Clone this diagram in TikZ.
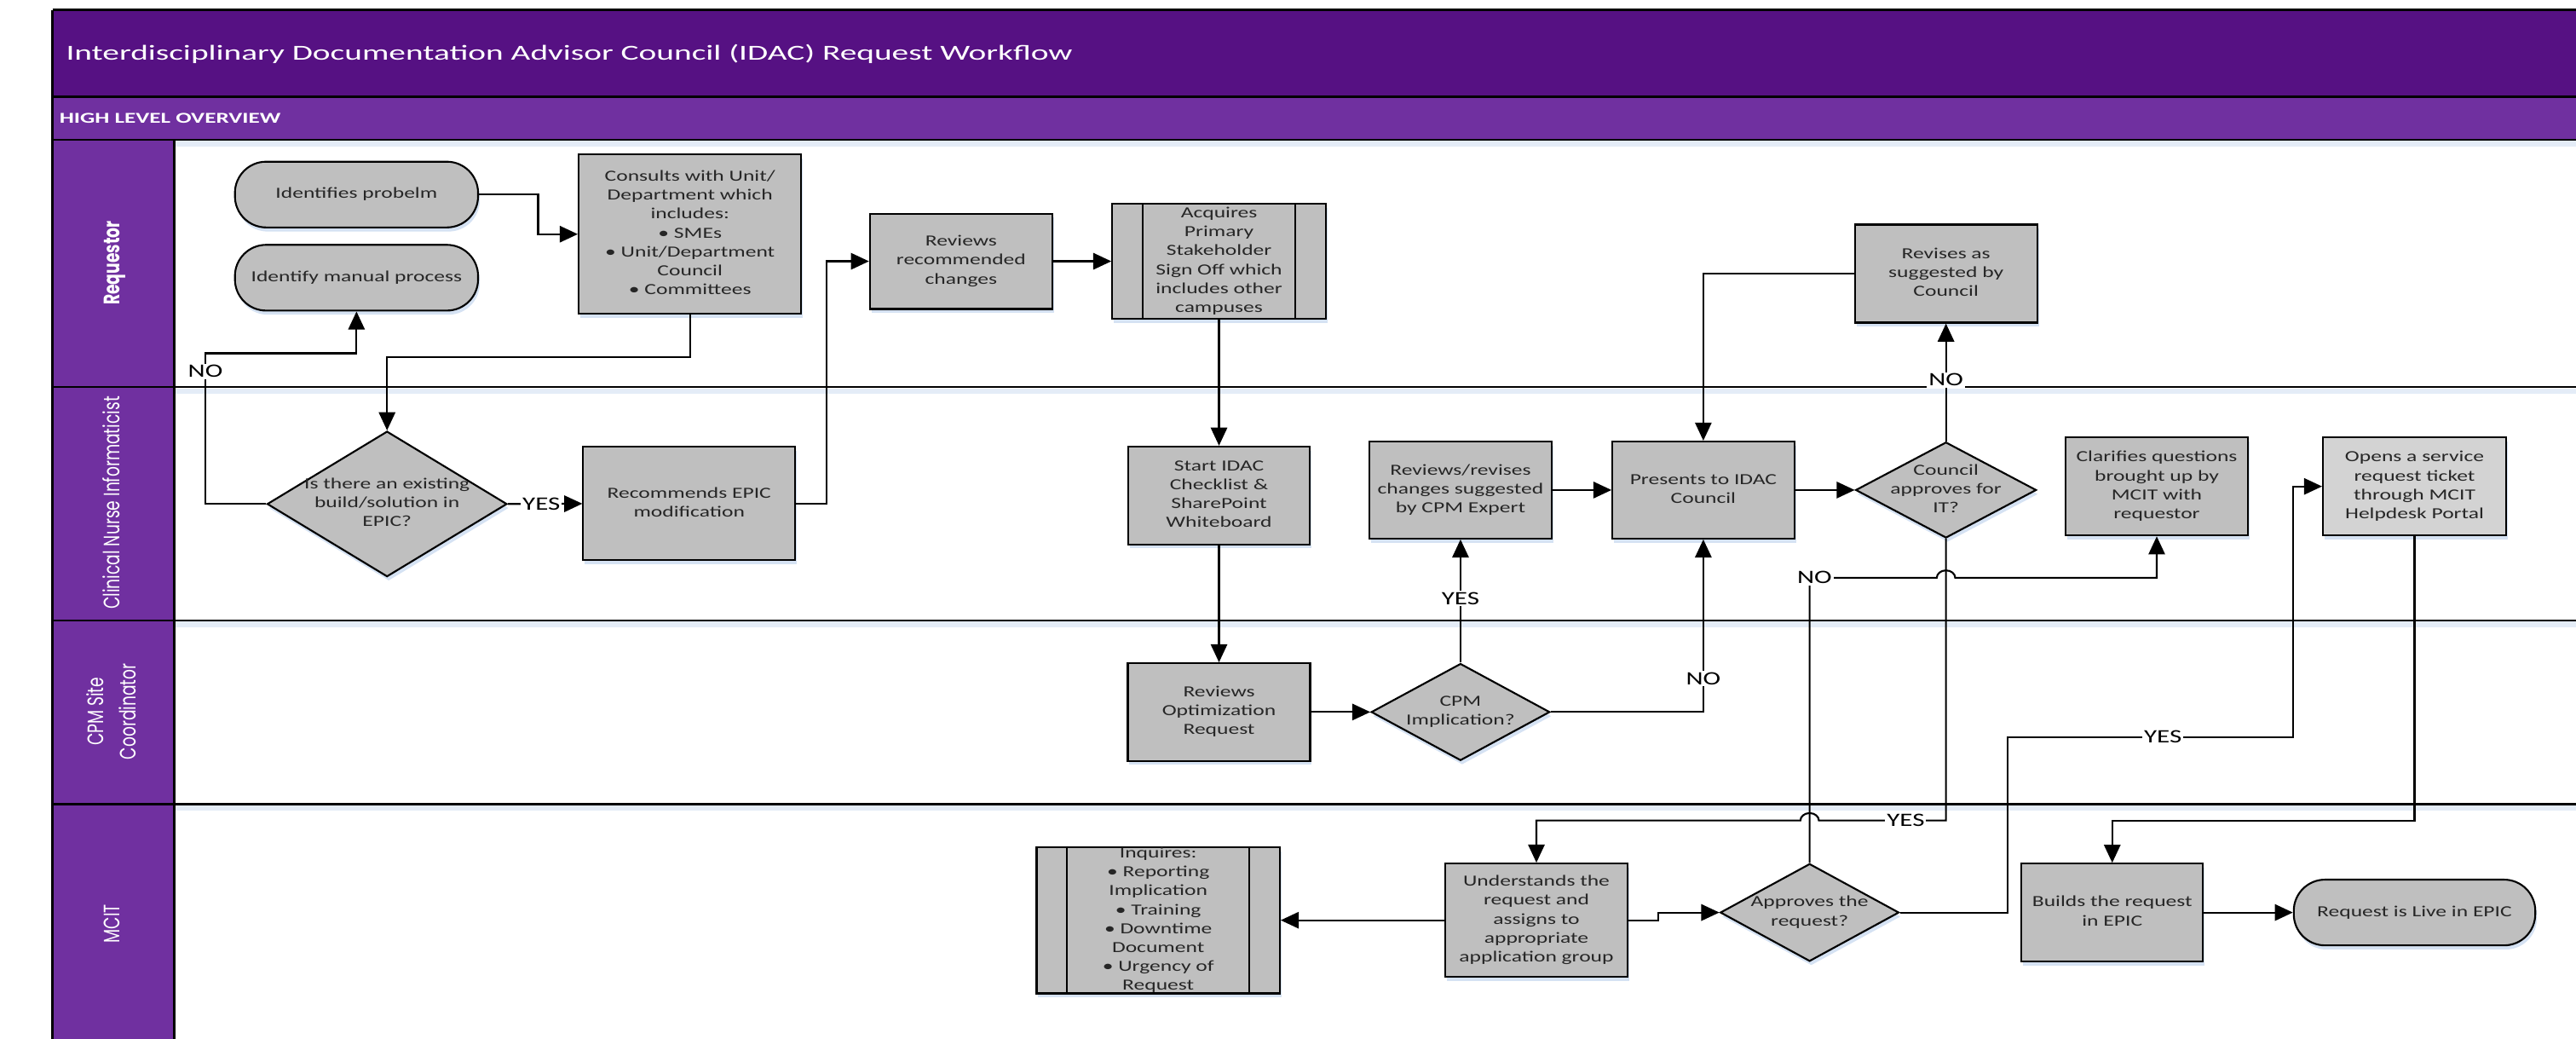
\documentclass[tikz,border=0pt]{standalone}
\usepackage{fontspec}
\setmainfont{Carlito}
\newfontfamily\lanefont{Poppins}
\usepackage{graphicx}
\usetikzlibrary{shapes.geometric,arrows.meta,shadows,calc}
\definecolor{titlepurple}{RGB}{86,17,131}
\definecolor{lanepurple}{RGB}{112,48,160}
\definecolor{boxgray}{RGB}{191,191,191}
\definecolor{lightbox}{RGB}{211,211,211}
\definecolor{txtgray}{RGB}{38,38,38}
\definecolor{shadowblue}{RGB}{196,214,238}
\newcommand{\bx}[1]{\scalebox{1.41}[1]{\begin{tabular}{@{}c@{}}#1\end{tabular}}}
\newcommand{\lb}[1]{\scalebox{1.4}[1]{#1}}
\newcommand{\lanetext}[1]{\scalebox{1}[1.4]{\begin{tabular}{@{}c@{}}#1\end{tabular}}}
\begin{document}
\begin{tikzpicture}[x=1pt,y=-1pt,
  shad/.style={drop shadow={shadow xshift=1pt,shadow yshift=-2.5pt,fill=shadowblue,opacity=0.7}},
  proc/.style={rectangle,draw=black,line width=1.1pt,fill=boxgray,inner sep=0pt,shad,
    font=\fontsize{9.4}{11.5}\selectfont,text=txtgray},
  term/.style={proc,rounded corners=19pt},
  decide/.style={diamond,draw=black,line width=1.1pt,fill=boxgray,inner sep=0pt,shad},
  txt/.style={inner sep=0pt,font=\fontsize{9.4}{11.5}\selectfont,text=txtgray},
  conn/.style={draw=black,line width=1.1pt,-{Triangle[length=11pt,width=10pt]}},
  lbl/.style={fill=white,inner sep=1pt,font=\fontsize{11.5}{12}\selectfont,text=black},
  lane/.style={draw=black,line width=1.3pt},
  lanelbl/.style={rotate=90,text=white,inner sep=0pt,font=\lanefont\fontsize{9.7}{14}\selectfont},
]
\fill[white] (0,0) rectangle (1568,632);
\useasboundingbox (0,0) rectangle (1568,632);
% bands
\fill[titlepurple] (32,6) rectangle (1580,59);
\fill[lanepurple] (32,59) rectangle (1580,85);
\fill[lanepurple] (32,85) rectangle (106,640);
% faint shadows under lines
\foreach \yy in {85,235.5,377.5,489.5}{
  \fill[shadowblue,opacity=0.45] (106,\yy+0.8) rectangle (1580,\yy+4);
}
\draw[lane] (32,6) -- (1580,6);
\draw[lane] (32,59) -- (1580,59);
\draw[lane] (32,85) -- (1580,85);
\draw[lane] (32,235.5) -- (1580,235.5);
\draw[lane] (32,377.5) -- (1580,377.5);
\draw[lane] (32,489.5) -- (1580,489.5);
\draw[lane] (32,6) -- (32,640);
\draw[lane] (106,85) -- (106,640);

% titles
\node[anchor=west,text=white,inner sep=0pt,font=\fontsize{13}{15}\selectfont] (title) at (40,33)
  {\scalebox{1.57}[1]{Interdisciplinary Documentation Advisor Council (IDAC) Request Workflow}};
\node[anchor=west,text=white,inner sep=0pt,font=\bfseries\fontsize{9.2}{11}\selectfont] (subtitle) at (36,72)
  {\scalebox{1.53}[1]{HIGH LEVEL OVERVIEW}};
\node[lanelbl] (lane1) at (69,160) {\lanetext{\bfseries Requestor}};
\node[lanelbl] (lane2) at (69,306) {\lanetext{Clinical Nurse Informaticist}};
\node[lanelbl] (lane3) at (69,433) {\lanetext{CPM Site\\Coordinator}};
\node[lanelbl] (lane4) at (69,562) {\lanetext{MCIT}};

% nodes
\node[term,minimum width=148pt,minimum height=40pt] (ident) at (217,118.4) {\bx{Identifies probelm}};
\node[term,minimum width=148pt,minimum height=40pt] (manual) at (217,169) {\bx{Identify manual process}};
\node[proc,minimum width=135.5pt,minimum height=97pt] (consult) at (420,142.5)
  {\bx{Consults with Unit/\\Department which\\includes:\\• SMEs\\• Unit/Department\\Council\\• Committees}};
\node[decide,minimum width=146pt,minimum height=88.5pt] (exist) at (235.6,306.7) {};
\node[txt] (exist-t) at (exist) {\bx{Is there an existing\\build/solution in\\EPIC?}};
\node[proc,minimum width=129pt,minimum height=69pt] (recommend) at (419.5,306.5) {\bx{Recommends EPIC\\modification}};
\node[proc,minimum width=111pt,minimum height=58pt] (reviews) at (585,159) {\bx{Reviews\\recommended\\changes}};
\node[proc,minimum width=130pt,minimum height=70pt] (acquire) at (742,159)
  {\bx{Acquires\\Primary\\Stakeholder\\Sign Off which\\includes other\\campuses}};
\draw[line width=1.1pt] ([xshift=19pt]acquire.north west) -- ([xshift=19pt]acquire.south west);
\draw[line width=1.1pt] ([xshift=-19pt]acquire.north east) -- ([xshift=-19pt]acquire.south east);
\node[proc,minimum width=110.5pt,minimum height=59.5pt] (start) at (742,301.5) {\bx{Start IDAC\\Checklist \&\\SharePoint\\Whiteboard}};
\node[proc,minimum width=111pt,minimum height=59pt] (revise) at (889,298.2) {\bx{Reviews/revises\\changes suggested\\by CPM Expert}};
\node[proc,minimum width=110.7pt,minimum height=59pt] (present) at (1036.8,298.2) {\bx{Presents to IDAC\\Council}};
\node[decide,minimum width=110pt,minimum height=58.3pt] (council) at (1184.5,298.2) {};
\node[txt] (council-t) at (council) {\bx{Council\\approves for\\IT?}};
\node[proc,minimum width=111pt,minimum height=59.7pt] (revcouncil) at (1184.5,166.5) {\bx{Revises as\\suggested by\\Council}};
\node[proc,minimum width=111pt,minimum height=59.7pt] (clarify) at (1312.8,296) {\bx{Clarifies questions\\brought up by\\MCIT with\\requestor}};
\node[proc,fill=lightbox,minimum width=111.5pt,minimum height=59.7pt] (ticket) at (1469.7,296) {\bx{Opens a service\\request ticket\\through MCIT\\Helpdesk Portal}};
\node[proc,minimum width=111pt,minimum height=59.4pt] (optim) at (742,433.3) {\bx{Reviews\\Optimization\\Request}};
\node[decide,minimum width=108.7pt,minimum height=59pt] (cpm) at (889,433.3) {};
\node[txt] (cpm-t) at (cpm) {\bx{CPM\\Implication?}};
\node[proc,minimum width=148pt,minimum height=89pt] (inquire) at (705,560) {};
\draw[line width=1.1pt] ([xshift=19pt]inquire.north west) -- ([xshift=19pt]inquire.south west);
\draw[line width=1.1pt] ([xshift=-19pt]inquire.north east) -- ([xshift=-19pt]inquire.south east);
\node[txt] (inquire-t) at (inquire) {\bx{Inquires:\\• Reporting\\Implication\\• Training\\• Downtime\\Document\\• Urgency of\\Request}};
\node[proc,minimum width=111pt,minimum height=69pt] (understand) at (935.2,560) {\bx{Understands the\\request and\\assigns to\\appropriate\\application group}};
\node[decide,minimum width=108.8pt,minimum height=59.4pt] (approve) at (1101.5,555.3) {};
\node[txt] (approve-t) at (approve) {\bx{Approves the\\request?}};
\node[proc,minimum width=110.5pt,minimum height=59.4pt] (build) at (1285.7,555.3) {\bx{Builds the request\\in EPIC}};
\node[term,minimum width=147pt,minimum height=40pt] (live) at (1469.7,555.3) {\bx{Request is Live in EPIC}};

\coordinate (yA) at (0,499.3);
\coordinate (yN) at (0,351.6);

% connectors
\draw[conn] (ident.east) -- ++(36,0) |- (consult.west);
\draw[conn] (exist.west) -| (125,215) -| (manual.south);
\node[lbl] (no1) at (125,226) {\lb{NO}};
\draw[conn] (consult.south) -- ++(0,26) -| (exist.north);
\draw[conn] (exist.east) -- (recommend.west) node[lbl,pos=0.45] (yes1) {\lb{YES}};
\draw[conn] (recommend.east) -- ++(18.5,0) |- (reviews.west);
\draw[conn] (reviews.east) -- (acquire.west);
\draw[conn] (acquire.south) -- (start.north);
\draw[conn] (start.south) -- (optim.north);
\draw[conn] (optim.east) -- (cpm.west);
\draw[conn] (cpm.north) -- (revise.south) node[lbl,pos=0.52] (yes2) {\lb{YES}};
\draw[conn] (cpm.east) -| (present.south);
\node[lbl] (no2) at (1036.8,413) {\lb{NO}};
\draw[conn] (revise.east) -- (present.west);
\draw[conn] (revcouncil.west) -| (present.north);
\draw[conn] (present.east) -- (council.west);
\draw[conn] (council.north) -- (revcouncil.south) node[lbl,pos=0.52] (no3) {\lb{NO}};
\draw[conn] (council.south) -- (council.south |- yA) -- ($(approve.north |- yA)+(5.6,0)$)
  arc[start angle=0,end angle=180,x radius=5.6pt,y radius=4.5pt] -| (understand.north);
\node[lbl] (yes3) at (1160,499.3) {\lb{YES}};
\draw[conn] (understand.west) -- (inquire.east);
\draw[conn] (understand.east) -- ++(18,0) |- (approve.west);
\draw[conn] (approve.north) -- (approve.north |- yN) -- ($(council.south |- yN)+(-5.6,0)$)
  arc[start angle=180,end angle=0,x radius=5.6pt,y radius=4.5pt] -| (clarify.south);
\node[lbl] (no4) at ($(approve.north |- yN)+(3,0)$) {\lb{NO}};
\draw[conn] (approve.east) -- ++(65.5,0) |- (1396,448.5) |- (ticket.west);
\node[lbl] (yes4) at (1316.5,448.5) {\lb{YES}};
\draw[conn] (ticket.south) -- (ticket.south |- yA) -| (build.north);
\draw[conn] (build.east) -- (live.west);
\end{tikzpicture}
\end{document}
